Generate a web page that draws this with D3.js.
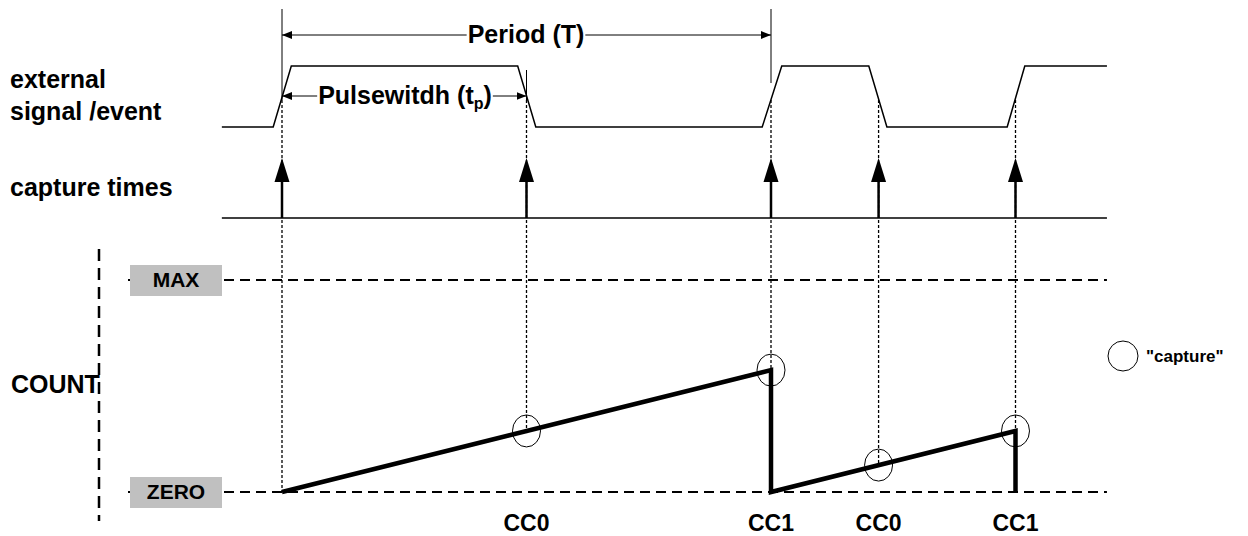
<!DOCTYPE html>
<html>
<head>
<meta charset="utf-8">
<script src="https://d3js.org/d3.v7.min.js"></script>
<style>
  body { margin: 0; background: #fff; }
  svg text { font-family: "Liberation Sans", Arial, sans-serif; font-weight: bold; fill: #000; }
</style>
</head>
<body>
<div id="chart"></div>
<script>
// time axis in units of the counter, one period = 10
var captureTimes = [0, 5, 10, 12.2, 15];
var captureLabels = ["", "CC0", "CC1", "CC0", "CC1"];
var captureCounts = [0, 0.288, 0.575, 0.127, 0.288];

// external signal vertices (0 = low, 1 = high)
var signalTimes = [-1.23, -0.18, 0.19, 4.82, 5.19, 9.82, 10.22, 12.0, 12.37, 14.83, 15.19, 16.87];
var signalLevels = [0, 0, 1, 1, 0, 0, 1, 1, 0, 0, 1, 1];

// counter sawtooth (0 = ZERO, 1 = MAX)
var countTimes = [0, 10, 10, 15, 15];
var countValues = [0, 0.575, 0, 0.288, 0];

var rowLabels = [["external", "signal /event"], ["capture times"], ["COUNT"]];
var levelLabels = ["ZERO", "MAX"];
var levelValues = [0, 1];

var width = 1248, height = 536;
var x = d3.scaleLinear().domain([0, 10]).range([282, 771]);
var ySig = d3.scaleLinear().domain([0, 1]).range([127, 66]);
var yCnt = d3.scaleLinear().domain([0, 1]).range([492, 280]);
var tEnd = signalTimes[signalTimes.length - 1];
var tStart = signalTimes[0];

var svg = d3.select("#chart").append("svg")
    .attr("width", width)
    .attr("height", height);

var defs = svg.append("defs");
defs.append("marker")
    .attr("id", "small")
    .attr("viewBox", "0 0 10 8")
    .attr("refX", 10).attr("refY", 4)
    .attr("markerWidth", 10).attr("markerHeight", 8)
    .attr("markerUnits", "userSpaceOnUse")
    .attr("orient", "auto-start-reverse")
  .append("path").attr("d", "M0,0 L10,4 L0,8 Z");

// dotted guide lines from the edges down to the counter
captureTimes.forEach(function(t, i) {
  svg.append("line")
    .attr("x1", x(t)).attr("x2", x(t))
    .attr("y1", 100).attr("y2", yCnt(captureCounts[i]))
    .attr("stroke", "#000").attr("stroke-width", 1.3)
    .attr("stroke-dasharray", "3,2");
});

// Period and pulse width reference lines
[[0, 9], [5, 70], [10, 9]].forEach(function(d) {
  svg.append("line")
    .attr("x1", x(d[0])).attr("x2", x(d[0]))
    .attr("y1", d[1]).attr("y2", d[0] == 10 ? 83 : 100)
    .attr("stroke", "#000").attr("stroke-width", 1);
});

function dimension(t0, t1, y, label, sub, tx) {
  var g = svg.append("g");
  var txt = g.append("text")
    .attr("x", tx).attr("y", y + 8)
    .attr("text-anchor", "middle")
    .style("font-size", "25px")
    .text(label);
  if (sub) {
    txt.append("tspan").attr("dy", 5).style("font-size", "16px").text(sub);
    txt.append("tspan").attr("dy", -5).text(")");
  }
  var bb = txt.node().getBBox();
  g.append("line")
    .attr("x1", bb.x - 1).attr("x2", x(t0))
    .attr("y1", y).attr("y2", y)
    .attr("stroke", "#000").attr("stroke-width", 1)
    .attr("marker-end", "url(#small)");
  g.append("line")
    .attr("x1", bb.x + bb.width + 1).attr("x2", x(t1))
    .attr("y1", y).attr("y2", y)
    .attr("stroke", "#000").attr("stroke-width", 1)
    .attr("marker-end", "url(#small)");
}
dimension(0, 10, 35, "Period (T)", null, 526);
dimension(0, 5, 96, "Pulsewitdh (t", "p", 405);

// external signal
var sigData = signalTimes.map(function(t, i) { return [t, signalLevels[i]]; });
svg.append("path")
    .datum(sigData)
    .attr("fill", "none")
    .attr("stroke", "#000")
    .attr("stroke-width", 1.5)
    .attr("d", d3.line().x(function(d) { return x(d[0]); }).y(function(d) { return ySig(d[1]); }));

// capture times baseline and arrows
svg.append("line")
    .attr("x1", x(tStart)).attr("x2", x(tEnd))
    .attr("y1", 218).attr("y2", 218)
    .attr("stroke", "#000").attr("stroke-width", 1.5);

captureTimes.forEach(function(t) {
  var cx = x(t);
  svg.append("line")
    .attr("x1", cx).attr("x2", cx)
    .attr("y1", 218).attr("y2", 180)
    .attr("stroke", "#000").attr("stroke-width", 2.5);
  svg.append("path")
    .attr("d", "M" + (cx - 7.5) + ",182 L" + cx + ",158 L" + (cx + 7.5) + ",182 Z")
    .attr("fill", "#000");
});

// MAX / ZERO levels
levelValues.forEach(function(v, i) {
  svg.append("line")
    .attr("x1", 128).attr("x2", x(tEnd))
    .attr("y1", yCnt(v)).attr("y2", yCnt(v))
    .attr("stroke", "#000").attr("stroke-width", 2)
    .attr("stroke-dasharray", "10,6");
  svg.append("rect")
    .attr("x", 130).attr("y", yCnt(v) - 15)
    .attr("width", 92).attr("height", 31)
    .attr("fill", "#c0c0c0");
  svg.append("text")
    .attr("x", 176).attr("y", yCnt(v) + 7)
    .attr("text-anchor", "middle")
    .style("font-size", "21px")
    .text(levelLabels[i]);
});

// left dashed axis
svg.append("line")
    .attr("x1", 99).attr("x2", 99)
    .attr("y1", 249).attr("y2", 521)
    .attr("stroke", "#000").attr("stroke-width", 2.5)
    .attr("stroke-dasharray", "12,7");

// counter sawtooth
var cntData = countTimes.map(function(t, i) { return [t, countValues[i]]; });
svg.append("path")
    .datum(cntData)
    .attr("fill", "none")
    .attr("stroke", "#000")
    .attr("stroke-width", 4.5)
    .attr("stroke-linejoin", "miter")
    .attr("d", d3.line().x(function(d) { return x(d[0]); }).y(function(d) { return yCnt(d[1]); }));

// capture circles
captureTimes.forEach(function(t, i) {
  if (i == 0) return;
  svg.append("ellipse")
    .attr("cx", x(t)).attr("cy", yCnt(captureCounts[i]))
    .attr("rx", 14).attr("ry", 16)
    .attr("fill", "none").attr("stroke", "#000").attr("stroke-width", 1);
  svg.append("text")
    .attr("x", x(t)).attr("y", 531)
    .attr("text-anchor", "middle")
    .style("font-size", "23px")
    .text(captureLabels[i]);
});

// legend
svg.append("circle")
    .attr("cx", 1123).attr("cy", 356).attr("r", 15)
    .attr("fill", "none").attr("stroke", "#000").attr("stroke-width", 1);
svg.append("text")
    .attr("x", 1146).attr("y", 362)
    .style("font-size", "17px")
    .text("\"capture\"");

// row labels
svg.append("text").attr("x", 10).attr("y", 88).style("font-size", "25px").text(rowLabels[0][0]);
svg.append("text").attr("x", 10).attr("y", 120).style("font-size", "25px").text(rowLabels[0][1]);
svg.append("text").attr("x", 10).attr("y", 196).style("font-size", "25px").text(rowLabels[1][0]);
svg.append("text").attr("x", 11).attr("y", 393).style("font-size", "25px").text(rowLabels[2][0]);
</script>
</body>
</html>
